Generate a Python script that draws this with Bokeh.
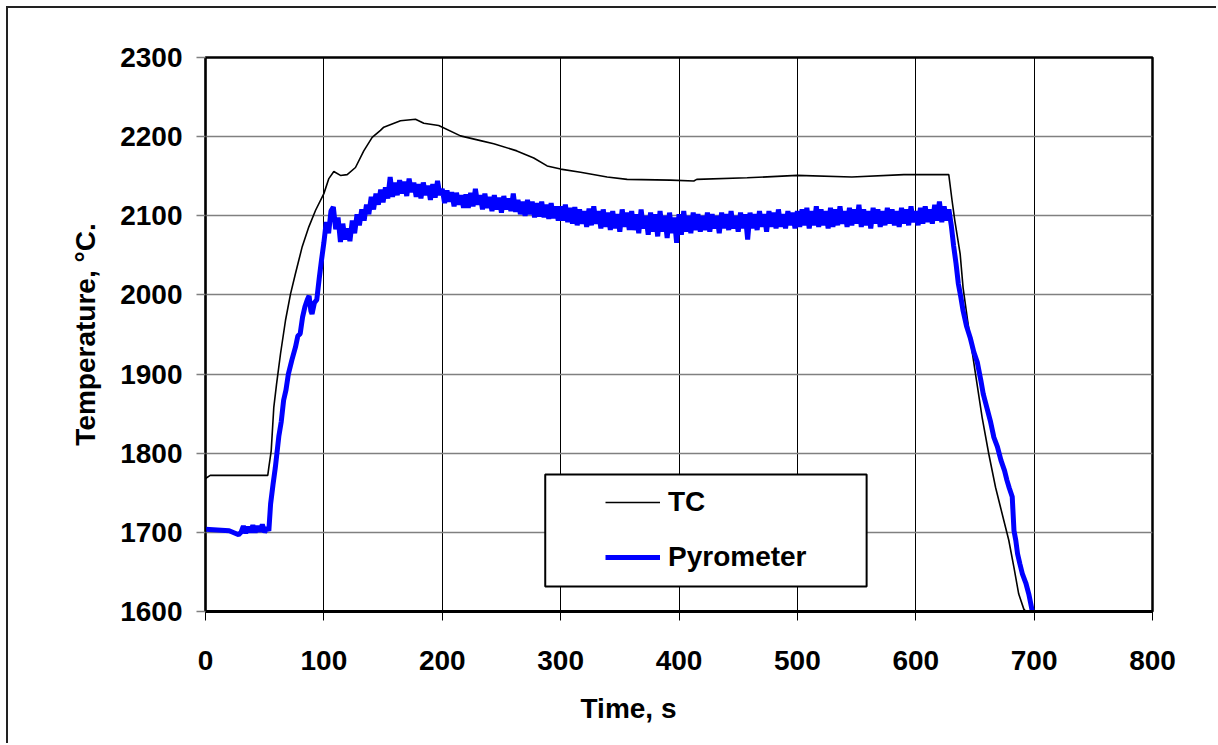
from bokeh.plotting import figure
from bokeh.models import Range1d, FixedTicker, Legend, LegendItem, BoxAnnotation, Title
from bokeh.embed import file_html
from bokeh.resources import INLINE

# ---------------- data ----------------
x_ticks = [0, 100, 200, 300, 400, 500, 600, 700, 800]
y_ticks = [1600, 1700, 1800, 1900, 2000, 2100, 2200, 2300]

tc_time = [0, 4, 52.6, 53.5, 55.5, 57.7, 60, 63.4, 67.6, 71.8, 76, 81.7, 87.3, 93, 100,
           104.2, 108.4, 114, 119.7, 126.7, 133.7, 140.8, 147.8, 150.6, 164.7, 177.4,
           184.4, 197, 215.4, 232.3, 243.5, 263, 277.3, 288.6, 300, 316.8, 339.3, 356.2,
           392.8, 412.5, 415, 457.6, 499.8, 546, 590, 627.9, 630.7, 633, 637.5, 640, 645,
           650.5, 656.1, 661.7, 667.4, 674.4, 678.6, 682.9, 687, 691.3, 693]
tc_temp = [1768, 1772, 1772, 1782, 1803, 1858, 1887, 1926, 1968, 2001, 2027, 2061, 2086,
           2107, 2128, 2147, 2156, 2151, 2152, 2161, 2182, 2199, 2208, 2212, 2220, 2222,
           2217, 2214, 2201, 2195, 2191, 2182, 2173, 2163, 2159, 2155, 2149, 2146, 2145,
           2144, 2146, 2148, 2151, 2149, 2152, 2152, 2119, 2094, 2052, 2009, 1955, 1900,
           1845, 1799, 1757, 1715, 1690, 1656, 1622, 1603, 1600]

pyro_time_start = [0, 10, 20, 28, 30, 32, 34, 36, 38, 40, 42, 44, 46, 48, 50, 52, 53.5,
                   55, 57, 59, 62, 64, 66, 68, 70, 73, 76, 78, 80, 82, 84, 86, 87.5, 89,
                   90, 92, 94, 96, 98, 99]
pyro_temp_start = [1704, 1703, 1702, 1697, 1700, 1708, 1699, 1707, 1700, 1709, 1700, 1708,
                   1701, 1710, 1700, 1706, 1702, 1736, 1760, 1782, 1822, 1840, 1867, 1880,
                   1900, 1918, 1934, 1948, 1951, 1972, 1985, 1994, 1999, 1980, 1976, 1990,
                   1994, 2020, 2044, 2055]

pyro_time_plateau = list(range(100, 630, 2))
pyro_temp_plateau = [
    2066, 2092, 2078, 2106, 2111, 2083, 2098, 2067, 2090, 2070,
    2084, 2068, 2094, 2078, 2102, 2088, 2108, 2094, 2114, 2102,
    2124, 2108, 2128, 2114, 2133, 2117, 2136, 2122, 2149, 2124,
    2142, 2126, 2145, 2128, 2143, 2125, 2147, 2130, 2142, 2124,
    2140, 2122, 2142, 2126, 2138, 2120, 2140, 2123, 2144, 2126,
    2134, 2116, 2132, 2118, 2130, 2112, 2129, 2114, 2126, 2110,
    2127, 2110, 2129, 2112, 2134, 2114, 2126, 2108, 2128, 2110,
    2124, 2106, 2126, 2108, 2123, 2104, 2125, 2108, 2122, 2106,
    2128, 2105, 2120, 2102, 2118, 2100, 2120, 2102, 2118, 2098,
    2116, 2099, 2118, 2098, 2114, 2096, 2116, 2097, 2112, 2094,
    2112, 2094, 2114, 2092, 2110, 2090, 2111, 2088, 2108, 2090,
    2106, 2086, 2109, 2088, 2112, 2090, 2106, 2084, 2108, 2086,
    2104, 2082, 2106, 2084, 2102, 2080, 2108, 2086, 2104, 2082,
    2106, 2082, 2102, 2078, 2108, 2084, 2100, 2076, 2104, 2080,
    2102, 2074, 2106, 2080, 2100, 2072, 2104, 2078, 2098, 2066,
    2102, 2076, 2106, 2080, 2100, 2078, 2104, 2082, 2102, 2080,
    2100, 2082, 2104, 2080, 2102, 2084, 2100, 2078, 2104, 2084,
    2102, 2082, 2106, 2084, 2100, 2080, 2104, 2084, 2102, 2070,
    2104, 2084, 2102, 2082, 2106, 2086, 2102, 2080, 2106, 2086,
    2104, 2084, 2108, 2086, 2102, 2084, 2106, 2088, 2104, 2084,
    2106, 2086, 2108, 2088, 2110, 2084, 2106, 2088, 2112, 2086,
    2108, 2088, 2106, 2084, 2110, 2086, 2108, 2088, 2112, 2090,
    2106, 2086, 2110, 2088, 2108, 2090, 2114, 2086, 2108, 2088,
    2106, 2084, 2110, 2090, 2108, 2086, 2106, 2088, 2110, 2090,
    2108, 2088, 2106, 2086, 2110, 2090, 2108, 2088, 2112, 2092,
    2106, 2088, 2110, 2090, 2112, 2092, 2108, 2090, 2114, 2094,
    2118, 2092, 2112, 2094, 2108,
]

pyro_time_end = [630, 632, 634, 636, 638, 640, 643, 646, 649, 652, 655, 657, 660, 663,
                 666, 669, 672, 675, 677, 679, 681.5, 683, 684.5, 686, 688, 690, 693,
                 695.5, 698.5]
pyro_temp_end = [2088, 2062, 2040, 2014, 1998, 1980, 1960, 1946, 1928, 1915, 1892, 1875,
                 1858, 1841, 1820, 1808, 1791, 1778, 1766, 1756, 1745, 1702, 1690, 1673,
                 1660, 1648, 1636, 1622, 1600]

pyro_time = pyro_time_start + pyro_time_plateau + pyro_time_end
pyro_temp = pyro_temp_start + pyro_temp_plateau + pyro_temp_end

# legend frame (data units)
legend_box = dict(left=287, right=558.5, bottom=1631.5, top=1773)

FONT = "Liberation Sans"

p = figure(width=1210, height=737,
           x_range=Range1d(0, 800), y_range=Range1d(1600, 2300),
           output_backend="svg", toolbar_location=None,
           min_border_left=197, min_border_right=66,
           min_border_top=49, min_border_bottom=134)
p.styles = {"margin-left": "6px", "margin-top": "6px",
            "border-left": "2px solid #222", "border-top": "2px solid #222"}

p.background_fill_color = "white"
p.border_fill_color = "white"
p.outline_line_color = "black"
p.outline_line_width = 2.5

p.xaxis.ticker = FixedTicker(ticks=x_ticks)
p.yaxis.ticker = FixedTicker(ticks=y_ticks)
p.xgrid.ticker = FixedTicker(ticks=x_ticks)
p.ygrid.ticker = FixedTicker(ticks=y_ticks)

p.xgrid.grid_line_color = "black"
p.xgrid.grid_line_width = 1
p.ygrid.grid_line_color = "#808080"
p.ygrid.grid_line_width = 1.5

for ax in (p.xaxis[0], p.yaxis[0]):
    ax.major_tick_in = 0
    ax.major_tick_out = 9
    ax.minor_tick_line_color = None
    ax.major_label_text_font = FONT
    ax.major_label_text_font_style = "bold"
    ax.major_label_text_font_size = "28px"
    ax.major_label_text_color = "black"

p.xaxis.axis_line_width = 3
p.xaxis.axis_line_color = "black"
p.xaxis.major_tick_line_color = "black"
p.xaxis.major_label_standoff = 30

p.yaxis.axis_line_width = 1.5
p.yaxis.axis_line_color = "black"
p.yaxis.major_tick_line_color = "#808080"
p.yaxis.major_tick_line_width = 1.5
p.yaxis.major_label_standoff = 14

p.yaxis.axis_label = "Temperature, °C."
p.yaxis.axis_label_text_font = FONT
p.yaxis.axis_label_text_font_style = "bold"
p.yaxis.axis_label_text_font_size = "28px"
p.yaxis.axis_label_text_color = "black"
p.yaxis.axis_label_standoff = 16

tc = p.line(tc_time, tc_temp, line_color="black", line_width=1.6)
py = p.line(pyro_time, pyro_temp, line_color="#0000FF", line_width=5)

box = BoxAnnotation(fill_color="white", fill_alpha=1, line_color="black", line_alpha=1,
                    line_width=2, **legend_box)
p.add_layout(box)

legend = Legend(items=[LegendItem(label="TC", renderers=[tc]),
                       LegendItem(label="Pyrometer", renderers=[py])],
                location=(392, 26))
legend.background_fill_alpha = 0
legend.border_line_alpha = 0
legend.padding = 8
legend.spacing = 15
legend.glyph_width = 55
legend.glyph_height = 40
legend.label_height = 40
legend.label_standoff = 8
legend.label_text_font = FONT
legend.label_text_font_style = "bold"
legend.label_text_font_size = "28px"
legend.label_text_color = "black"
p.add_layout(legend)

xtitle = Title(text="Time, s", align="left", offset=375, standoff=36,
               text_font=FONT, text_font_style="bold", text_font_size="28px",
               text_color="black")
p.add_layout(xtitle, "below")

open("out.html", "w").write(file_html(p, INLINE))
